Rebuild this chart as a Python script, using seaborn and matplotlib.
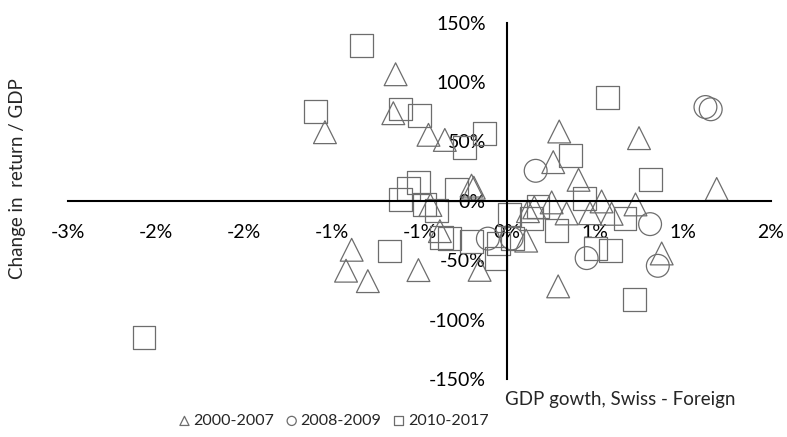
import numpy as np
import pandas as pd
import matplotlib
matplotlib.use("Agg")
import matplotlib.pyplot as plt
from matplotlib.ticker import MultipleLocator, FuncFormatter
import seaborn as sns

# --------------------------------------
# Data (GDP growth diff in %, change in return / GDP in %)
# --------------------------------------

x_2000 = [-0.636, -0.649, -1.038, -0.449, -0.356, -0.204, -0.191, -0.438, -0.384,
          -0.886, -0.918, -0.794, -0.506, -0.158, 0.107, 0.295, 0.261, 0.405,
          0.749, 1.191, 0.117, 0.153, 0.252, 0.337, 0.470, 0.536, 0.593, 0.729,
          0.878, 0.289]
y_2000 = [106.6, 73.8, 57.8, 55.6, 51.3, 12.8, 11.1, -3.5, -25.5,
          -41.2, -58.8, -67.6, -58.3, -58.1, -33.5, 58.4, 32.6, 17.7,
          52.8, 10.0, -8.7, -5.5, -1.3, -10.6, -10.4, -0.5, -10.9, -3.0,
          -44.3, -72.0]

x_2008 = [1.127, 1.157, 0.161, -0.111, 0.024, 0.451, 0.812, 0.856]
y_2008 = [79.0, 77.1, 25.3, -31.8, -31.6, -48.2, -19.6, -54.7]

x_2010 = [-0.830, -1.092, -0.608, -0.498, -0.128, -0.244, 0.571, 0.360, 0.813,
          0.441, -0.289, -0.508, -0.561, -0.607, -0.470, -0.403, -0.375, -0.330,
          -0.204, -0.051, -0.065, -0.669, -2.068, 0.013, 0.030, 0.174, 0.138,
          0.279, 0.669, 0.500, 0.588, 0.722]
y_2010 = [131.1, 74.9, 77.4, 72.1, 56.4, 45.2, 87.3, 38.2, 18.1,
          2.3, 9.8, 15.7, 10.4, 1.3, -3.2, -8.2, -31.0, -31.4,
          -33.9, -35.9, -48.7, -42.3, -115.3, -11.2, -31.6, -4.7, -14.8,
          -24.7, -14.8, -39.8, -41.5, -83.3]

periods = ["2000-2007", "2008-2009", "2010-2017"]
markers = ["^", "o", "s"]

df = pd.concat([
    pd.DataFrame({"x": x_2000, "y": y_2000, "period": periods[0]}),
    pd.DataFrame({"x": x_2008, "y": y_2008, "period": periods[1]}),
    pd.DataFrame({"x": x_2010, "y": y_2010, "period": periods[2]}),
])

# --------------------------------------
# Style
# --------------------------------------

sns.set_theme(style="white")
plt.rcParams["font.family"] = ["Lato", "DejaVu Sans"]

fig = plt.figure(figsize=(7.87, 4.37), dpi=100)
ax = fig.add_axes([68 / 787, 1 - 379 / 437, 703 / 787, 356.3 / 437])

for period, marker in zip(periods, markers):
    sns.scatterplot(
        data=df[df["period"] == period],
        x="x",
        y="y",
        marker=marker,
        s=270,
        facecolor="none",
        edgecolor="#6d6d6d",
        linewidth=0.9,
        label=period,
        ax=ax,
        zorder=1
    )

# --------------------------------------
# Axes crossing at origin
# --------------------------------------

ax.set_xlim(-2.5, 1.5)
ax.set_ylim(-150, 150)
ax.xaxis.set_major_locator(MultipleLocator(0.5))
ax.yaxis.set_major_locator(MultipleLocator(50))


def x_fmt(v, pos):
    r = np.sign(v) * np.floor(abs(v) + 0.5 + 1e-9)
    return f"{int(r)}%"


ax.xaxis.set_major_formatter(FuncFormatter(x_fmt))
ax.yaxis.set_major_formatter(FuncFormatter(lambda v, pos: f"{int(round(v))}%"))

for side in ["top", "right"]:
    ax.spines[side].set_visible(False)
ax.spines["left"].set_position(("data", 0))
ax.spines["bottom"].set_position(("data", 0))
for side in ["left", "bottom"]:
    ax.spines[side].set_color("black")
    ax.spines[side].set_linewidth(1.5)
    ax.spines[side].set_zorder(3)

ax.tick_params(axis="both", direction="out", length=6, width=1,
               color="black", labelsize=14, labelcolor="black")
ax.tick_params(axis="x", pad=11)
ax.tick_params(axis="y", pad=9.5)

ax.set_xlabel("")
ax.set_ylabel("")
ax.legend_.remove()

fig.text(18 / 787, 1 - 178.5 / 437, "Change in  return / GDP", rotation=90,
         ha="center", va="center", fontsize=13.5)
fig.text(505 / 787, 1 - 399 / 437, "GDP gowth, Swiss - Foreign",
         ha="left", va="center", fontsize=13.5)

handles, labels = ax.get_legend_handles_labels()
fig.legend(handles, labels, loc="center", ncol=3,
           bbox_to_anchor=(334 / 787, 1 - 421 / 437),
           frameon=False, fontsize=11.5, markerscale=0.4,
           handlelength=0.6, handletextpad=0.25, columnspacing=0.8)

fig.savefig("out.png", dpi=100)
